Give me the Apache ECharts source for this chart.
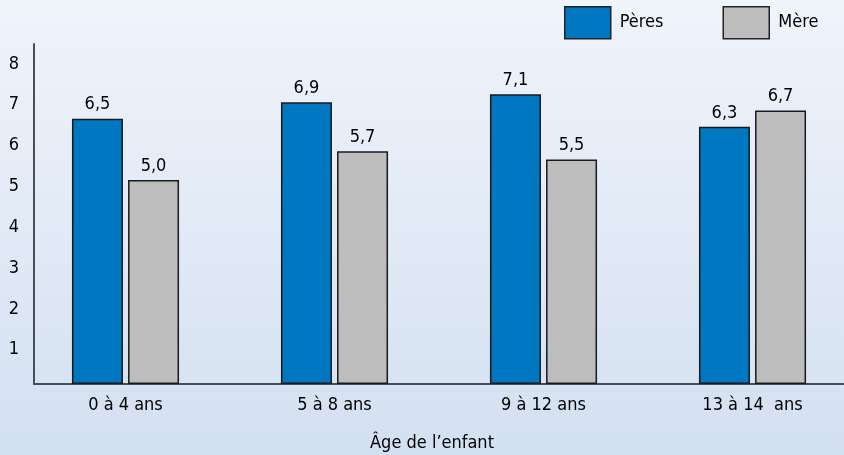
<!DOCTYPE html>
<html>
<head>
<meta charset="utf-8">
<script src="https://cdn.jsdelivr.net/npm/echarts@6/dist/echarts.min.js"></script>
<style>
html,body{margin:0;padding:0;}
#chart{width:844px;height:455px;}
</style>
</head>
<body>
<div id="chart"></div>
<script>
// données
var categories = ['0 à 4 ans', '5 à 8 ans', '9 à 12 ans', '13 à 14  ans'];
var peres = [6.5, 6.9, 7.1, 6.3];
var meres = [5.0, 5.7, 5.5, 6.7];
var seriesNames = ['Pères', 'Mère'];
var axisTitle = 'Âge de l\u2019enfant';

var font = "'Liberation Sans Narrow', 'DejaVu Sans Condensed', sans-serif";

function fmt(p) {
  return p.value.toFixed(1).replace('.', ',');
}

var chart = echarts.init(document.getElementById('chart'));
chart.setOption({
  backgroundColor: new echarts.graphic.LinearGradient(0, 0, 0, 1, [
    {offset: 0, color: '#f0f4fb'},
    {offset: 1, color: '#d3e0f1'}
  ]),
  textStyle: {fontFamily: font},
  animation: false,
  legend: {
    left: 564,
    top: 6,
    padding: 0,
    itemWidth: 46,
    itemHeight: 32,
    itemGap: 59,
    icon: 'rect',
    data: seriesNames,
    itemStyle: {borderColor: '#222', borderWidth: 1.5},
    textStyle: {fontFamily: font, fontSize: 18, color: '#000', padding: [0, 0, 0, 4]}
  },
  grid: [
    {left: 21, width: 836, top: 44, height: 340, outerBoundsMode: 'none'},
    {left: 34, right: 0, top: 44, height: 340, outerBoundsMode: 'none'}
  ],
  xAxis: [
    {
      type: 'category', gridIndex: 0, data: categories,
      axisLine: {show: false}, axisTick: {show: false},
      axisLabel: {fontFamily: font, fontSize: 18, color: '#000', margin: 12}
    },
    {
      type: 'category', gridIndex: 1, data: categories,
      axisLine: {show: true, lineStyle: {color: '#4a4f57', width: 2}},
      axisTick: {show: false}, axisLabel: {show: false}
    }
  ],
  yAxis: [
    {type: 'value', gridIndex: 0, min: 0, max: 8.33, show: false, splitLine: {show: false}},
    {
      type: 'value', gridIndex: 1, min: 0, max: 8.33, interval: 1,
      axisLine: {show: true, lineStyle: {color: '#4a4f57', width: 2}},
      axisTick: {show: false},
      splitLine: {show: false},
      axisLabel: {
        fontFamily: font, fontSize: 18, color: '#000', margin: 15,
        verticalAlign: 'top', lineHeight: 13,
        showMaxLabel: false,
        formatter: function (v) { return (v > 0 && v <= 8) ? String(v) : ''; }
      }
    }
  ],
  graphic: [{
    type: 'text', x: 432, y: 443,
    style: {text: axisTitle, fontFamily: font, fontSize: 18, fill: '#000',
      align: 'center', verticalAlign: 'middle'}
  }],
  series: [
    {
      name: seriesNames[0], type: 'bar', xAxisIndex: 0, yAxisIndex: 0,
      data: peres, barWidth: 51, barGap: '10%',
      itemStyle: {color: '#0078c1', borderColor: '#1a1a1a', borderWidth: 1.5},
      label: {show: true, position: 'top', distance: 5, formatter: fmt,
        fontFamily: font, fontSize: 18, color: '#000'}
    },
    {
      name: seriesNames[1], type: 'bar', xAxisIndex: 0, yAxisIndex: 0,
      data: meres, barWidth: 51,
      itemStyle: {color: '#bdbdbd', borderColor: '#1a1a1a', borderWidth: 1.5},
      label: {show: true, position: 'top', distance: 5, formatter: fmt,
        fontFamily: font, fontSize: 18, color: '#000'}
    }
  ]
});
</script>
</body>
</html>
